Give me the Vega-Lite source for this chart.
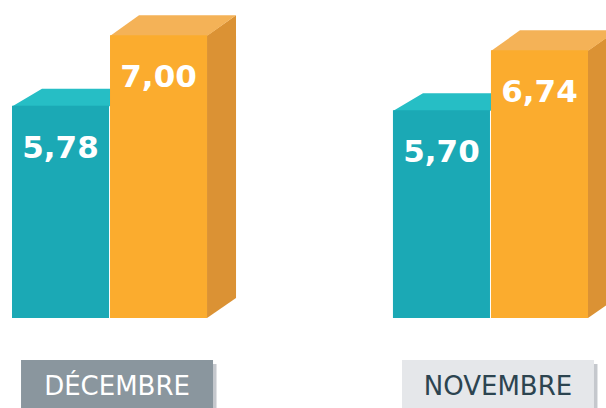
{
  "$schema": "https://vega.github.io/schema/vega-lite/v6.json",
  "width": 600,
  "height": 318,
  "autosize": {"type": "none"},
  "padding": {"left": 0, "top": 0, "right": 6, "bottom": 90},
  "background": "white",
  "config": {
    "view": {"stroke": null},
    "locale": {"number": {"decimal": ",", "thousands": " ", "grouping": [3], "currency": ["", " €"]}}
  },
  "data": {
    "values": [
      {"mois": "DÉCEMBRE", "serie": "A", "valeur": 5.78},
      {"mois": "DÉCEMBRE", "serie": "B", "valeur": 7.00},
      {"mois": "NOVEMBRE", "serie": "A", "valeur": 5.70},
      {"mois": "NOVEMBRE", "serie": "B", "valeur": 6.74}
    ]
  },
  "encoding": {
    "x": {
      "field": "mois",
      "type": "nominal",
      "sort": ["DÉCEMBRE", "NOVEMBRE"],
      "axis": null,
      "scale": {"paddingInner": 0.488, "paddingOuter": 0.0315}
    },
    "y": {
      "field": "valeur",
      "type": "quantitative",
      "axis": null,
      "scale": {"domain": [2.1, 7.611], "nice": false, "zero": false}
    }
  },
  "layer": [
    {
      "transform": [{"filter": "datum.serie === 'B'"}],
      "mark": {"type": "bar", "width": 29, "xOffset": 112, "color": "#DB9234", "opacity": 1},
      "encoding": {"y2": {"datum": 2.1}}
    },
    {
      "transform": [{"filter": "datum.serie === 'B'"}],
      "mark": {"type": "point", "filled": true, "size": 4, "strokeWidth": 0, "opacity": 1, "color": "#DB9234"},
      "encoding": {
        "xOffset": {"field": "serie", "type": "nominal", "scale": {"paddingInner": 0.01}},
        "shape": {"value": "M48,0.8L77.5,-20L77.5,0.8Z"}
      }
    },
    {
      "transform": [{"filter": "datum.serie === 'B'"}],
      "mark": {"type": "point", "filled": true, "size": 4, "strokeWidth": 0, "opacity": 1, "color": "#FFFFFF"},
      "encoding": {
        "xOffset": {"field": "serie", "type": "nominal", "scale": {"paddingInner": 0.01}},
        "y": {"datum": 2.1},
        "shape": {"value": "M48.5,0L77.5,-20L79,-20L79,2L48.5,2Z"}
      }
    },
    {
      "mark": {"type": "point", "filled": true, "size": 4, "strokeWidth": 0, "opacity": 1},
      "encoding": {
        "xOffset": {"field": "serie", "type": "nominal", "scale": {"paddingInner": 0.01}},
        "shape": {
          "condition": {"test": "datum.serie === 'A'", "value": "M-48.5,0.8L-18.5,-17L78.5,-17L48.5,0.8Z"},
          "value": "M-48.5,0.8L-19.5,-20L77.5,-20L48.5,0.8Z"
        },
        "color": {
          "condition": {"test": "datum.serie === 'A'", "value": "#26BEC5"},
          "value": "#F4B257"
        }
      }
    },
    {
      "mark": {"type": "bar", "opacity": 1},
      "encoding": {
        "xOffset": {"field": "serie", "type": "nominal", "scale": {"paddingInner": 0.01}},
        "y2": {"datum": 2.1},
        "color": {
          "condition": {"test": "datum.serie === 'A'", "value": "#1BA9B5"},
          "value": "#FBAC2E"
        }
      }
    },
    {
      "mark": {
        "type": "text",
        "font": "DejaVu Sans",
        "fontWeight": "bold",
        "fontSize": 31,
        "color": "#FFFFFF",
        "baseline": "alphabetic",
        "align": "center",
        "yOffset": 52
      },
      "encoding": {
        "xOffset": {"field": "serie", "type": "nominal", "scale": {"paddingInner": 0.01}},
        "text": {"field": "valeur", "type": "quantitative", "format": ".2f"}
      }
    },
    {
      "transform": [{"filter": "datum.serie === 'A'"}],
      "mark": {"type": "point", "filled": true, "size": 4, "strokeWidth": 0, "opacity": 1, "color": "#C5C8CD"},
      "encoding": {
        "y": {"datum": 2.1},
        "shape": {"value": "M-85,46H107V120H-85Z"}
      }
    },
    {
      "transform": [{"filter": "datum.serie === 'A'"}],
      "mark": {"type": "point", "filled": true, "size": 4, "strokeWidth": 0, "opacity": 1},
      "encoding": {
        "y": {"datum": 2.1},
        "shape": {"value": "M-88.5,42H103.5V120H-88.5Z"},
        "color": {
          "condition": {"test": "datum.mois === 'DÉCEMBRE'", "value": "#8A969E"},
          "value": "#E5E7EA"
        }
      }
    },
    {
      "transform": [{"filter": "datum.serie === 'A'"}],
      "mark": {
        "type": "text",
        "font": "DejaVu Sans",
        "fontSize": 26,
        "baseline": "alphabetic",
        "align": "center",
        "xOffset": 7.5,
        "yOffset": 77
      },
      "encoding": {
        "y": {"datum": 2.1},
        "text": {"field": "mois", "type": "nominal"},
        "color": {
          "condition": {"test": "datum.mois === 'DÉCEMBRE'", "value": "#FFFFFF"},
          "value": "#2C4450"
        }
      }
    }
  ]
}
